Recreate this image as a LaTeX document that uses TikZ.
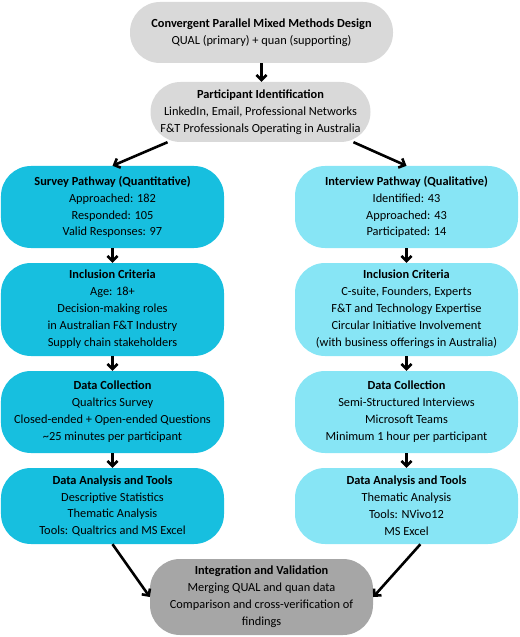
\documentclass[tikz,border=0pt]{standalone}
\usepackage{fontspec}
\setmainfont{Carlito}
\usepackage{tikz}
\usetikzlibrary{arrows.meta}

\definecolor{topgray}{HTML}{D9D9D9}
\definecolor{endgray}{HTML}{A6A6A6}
\definecolor{quancyan}{HTML}{17BFDF}
\definecolor{qualcyan}{HTML}{87E5F5}

\begin{document}
\begin{tikzpicture}[x=1bp,y=-1bp,
    box/.style={rounded corners=30bp, inner sep=0pt, align=center,
        font=\fontsize{12.4}{17}\selectfont, minimum width=223bp},
    arr/.style={line width=2.6pt, -{Straight Barb[length=5bp,width=10bp]}}]
    \useasboundingbox (0,0) rectangle (520,637);

    \node[box, fill=topgray, minimum width=263bp, minimum height=61bp] (design) at (261.5,32.5)
        {\textbf{Convergent Parallel Mixed Methods Design}\\QUAL (primary) + quan (supporting)};
    \node[box, fill=topgray, minimum width=220bp, minimum height=60bp] (ident) at (260.5,112)
        {\textbf{Participant Identification}\\LinkedIn, Email, Professional Networks\\F\&T Professionals Operating in Australia};

    \node[box, fill=quancyan, minimum height=82bp] (survey) at (112.5,207)
        {\textbf{Survey Pathway (Quantitative)}\\Approached: 182\\Responded: 105\\Valid Responses: 97};
    \node[box, fill=quancyan, minimum height=93bp] (inclL) at (112.5,309.5)
        {\textbf{Inclusion Criteria}\\Age: 18+\\Decision-making roles\\in Australian F\&T Industry\\Supply chain stakeholders};
    \node[box, fill=quancyan, minimum height=82bp] (collL) at (112.5,412)
        {\textbf{Data Collection}\\Qualtrics Survey\\Closed-ended + Open-ended Questions\\\textasciitilde25 minutes per participant};
    \node[box, fill=quancyan, minimum height=76bp] (anaL) at (112.5,506)
        {\textbf{Data Analysis and Tools}\\Descriptive Statistics\\Thematic Analysis\\Tools: Qualtrics and MS Excel};

    \node[box, fill=qualcyan, minimum height=82bp] (interview) at (406.5,207)
        {\textbf{Interview Pathway (Qualitative)}\\Identified: 43\\Approached: 43\\Participated: 14};
    \node[box, fill=qualcyan, minimum height=93bp] (inclR) at (406.5,309.5)
        {\textbf{Inclusion Criteria}\\C-suite, Founders, Experts\\F\&T and Technology Expertise\\Circular Initiative Involvement\\(with business offerings in Australia)};
    \node[box, fill=qualcyan, minimum height=82bp] (collR) at (406.5,412)
        {\textbf{Data Collection}\\Semi-Structured Interviews\\Microsoft Teams\\Minimum 1 hour per participant};
    \node[box, fill=qualcyan, minimum height=76bp] (anaR) at (406.5,506)
        {\textbf{Data Analysis and Tools}\\Thematic Analysis\\Tools: NVivo12\\MS Excel};

    \node[box, fill=endgray, minimum height=76bp] (integ) at (261.5,597)
        {\textbf{Integration and Validation}\\Merging QUAL and quan data\\Comparison and cross-verification of\\findings};

    \draw[arr] (design.south) -- (design.south |- ident.north);
    \draw[arr] (ident.-162) -- (survey.north);
    \draw[arr] (ident.-18) -- (interview.north);
    \draw[arr] (survey) -- (inclL);
    \draw[arr] (inclL) -- (collL);
    \draw[arr] (collL) -- (anaL);
    \draw[arr] (interview) -- (inclR);
    \draw[arr] (inclR) -- (collR);
    \draw[arr] (collR) -- (anaR);
    \draw[arr] (anaL.south) -- (integ.west);
    \draw[arr] (anaR.-70) -- (integ.east);
\end{tikzpicture}
\end{document}
